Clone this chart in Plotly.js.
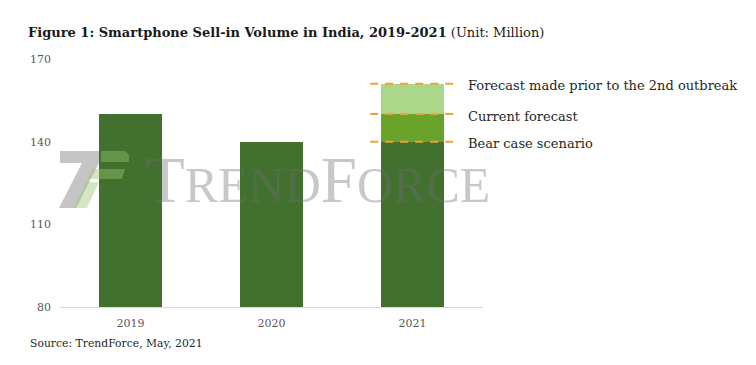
<!DOCTYPE html>
<html>
<head>
<meta charset="utf-8">
<script src="https://cdn.plot.ly/plotly-3.0.1.min.js"></script>
<style>html,body{margin:0;padding:0;background:#fff;}#chart{width:756px;height:365px;}</style>
</head>
<body>
<div id="chart"></div>
<script>
// ---- data ----
const years = ["2019", "2020", "2021"];
const actualVolume = [150, 140, 140];          // sell-in / bear case base
const currentForecastAdd = [0, 0, 10];         // bear case -> current forecast
const priorForecastAdd = [0, 0, 11];           // current -> forecast before 2nd outbreak
const scenarioLabels = ["Forecast made prior to the 2nd outbreak", "Current forecast", "Bear case scenario"];
const yTicks = [80, 110, 140, 170];

// derived scenario levels for 2021
const bear = actualVolume[2];
const current = bear + currentForecastAdd[2];
const prior = current + priorForecastAdd[2];
const scenarioLevels = [prior, current, bear];

// ---- layout helpers (pixel -> paper) ----
const W = 756, H = 365;
const M = {l: 60, r: 273, t: 59, b: 58};
const pw = W - M.l - M.r, ph = H - M.t - M.b;
const px = x => (x - M.l) / pw;
const py = y => (H - M.b - y) / ph;
function poly(pts) {
  return 'M' + pts.map(p => px(p[0]).toFixed(4) + ',' + py(p[1]).toFixed(4)).join(' L') + ' Z';
}

const serif = "DejaVu Serif, Liberation Serif, serif";

const traces = [
  {type: 'bar', x: years, y: actualVolume, marker: {color: '#41702f'}, hoverinfo: 'skip'},
  {type: 'bar', x: years, y: currentForecastAdd, marker: {color: '#6aa329'}, hoverinfo: 'skip'},
  {type: 'bar', x: years, y: priorForecastAdd, marker: {color: '#aad78a'}, hoverinfo: 'skip'}
];

const shapes = [];
// dashed orange scenario lines
scenarioLevels.forEach(v => {
  shapes.push({type: 'line', xref: 'x', yref: 'y', x0: 2 - 0.30, x1: 2 + 0.32, y0: v, y1: v,
    line: {color: '#f4a035', width: 2, dash: '8px,7px'}, layer: 'above'});
});
// watermark logo
shapes.push({type: 'path', xref: 'paper', yref: 'paper', layer: 'above', line: {width: 0},
  fillcolor: 'rgba(110,110,110,0.4)',
  path: poly([[60,151],[99,151],[99,163],[76,208],[59,208],[82,163],[60,163]])});
shapes.push({type: 'path', xref: 'paper', yref: 'paper', layer: 'above', line: {width: 0},
  fillcolor: 'rgba(150,200,110,0.42)',
  path: poly([[101,151],[125,151],[129,155],[129,162],[101,162]])});
shapes.push({type: 'path', xref: 'paper', yref: 'paper', layer: 'above', line: {width: 0},
  fillcolor: 'rgba(150,200,110,0.42)',
  path: poly([[92,169],[125,169],[122,179],[87,179]])});
shapes.push({type: 'path', xref: 'paper', yref: 'paper', layer: 'above', line: {width: 0},
  fillcolor: 'rgba(150,200,110,0.42)',
  path: poly([[86,182],[99,182],[87,208],[74,208]])});

const annotations = [];
scenarioLevels.forEach((v, i) => {
  annotations.push({xref: 'paper', yref: 'y', x: px(466), y: v, yshift: -2, xanchor: 'left', yanchor: 'middle',
    text: scenarioLabels[i], showarrow: false, font: {family: serif, size: 13, color: '#262626'}});
});
annotations.push({xref: 'paper', yref: 'paper', x: px(28), y: py(343), xanchor: 'left', yanchor: 'middle',
  text: 'Source: TrendForce, May, 2021', showarrow: false, font: {family: serif, size: 10.8, color: '#262626'}});
annotations.push({xref: 'paper', yref: 'paper', x: px(143), y: py(218), xanchor: 'left', yanchor: 'bottom',
  text: "T<span style='font-size:50px'>REND</span>F<span style='font-size:50px'>ORCE</span>",
  showarrow: false, font: {family: "Liberation Serif, serif", size: 65, color: 'rgba(110,110,110,0.38)'}});

const layout = {
  width: W, height: H,
  margin: M,
  paper_bgcolor: '#ffffff', plot_bgcolor: '#ffffff',
  barmode: 'stack', bargap: 0.55,
  showlegend: false,
  title: {
    text: "<b>Figure 1: Smartphone Sell-in Volume in India, 2019-2021</b> (Unit: Million)",
    xref: 'container', yref: 'container', x: 28 / W, xanchor: 'left', y: 1 - 32 / H, yanchor: 'middle',
    font: {family: serif, size: 13, color: '#1a1a1a'}
  },
  xaxis: {type: 'category', showgrid: false, zeroline: false, showline: true, linecolor: '#d9d9d9', linewidth: 1,
    ticks: '', tickfont: {family: serif, size: 11, color: '#595959'}, ticklabelstandoff: 6, fixedrange: true},
  yaxis: {range: [80, 170], tickvals: yTicks, ticktext: yTicks.map(String), showgrid: false, zeroline: false,
    showline: false, ticks: '', tickfont: {family: serif, size: 11, color: '#595959'}, ticklabelstandoff: 8, fixedrange: true},
  shapes: shapes,
  annotations: annotations
};

Plotly.newPlot('chart', traces, layout, {displayModeBar: false, staticPlot: true});
</script>
</body>
</html>
